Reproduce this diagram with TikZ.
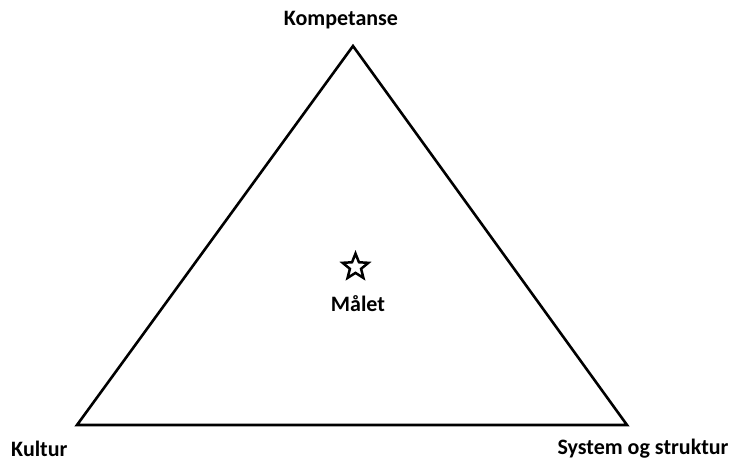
\documentclass[tikz,border=0pt]{standalone}
\usepackage{fontspec}
\setmainfont{Carlito}
\usetikzlibrary{shapes.geometric}
\begin{document}
\begin{tikzpicture}[x=1pt,y=-1pt,
  lbl/.style={font=\bfseries\fontsize{22}{26}\selectfont, inner sep=0pt},
  edge/.style={line width=2.6pt, line join=miter}]
\useasboundingbox[fill=white] (0,0) rectangle (731,466);
\coordinate (top) at (353,46);
\coordinate (bl) at (77,425);
\coordinate (br) at (627,425);
\draw[edge] (top) -- (bl) -- (br) -- cycle;
\node[lbl] (komp) at (341,20) {Kompetanse};
\node[lbl, anchor=west] (kult) at (11,449) {Kultur};
\node[lbl] (sys) at (643,449) {System og struktur};
\node[star, star points=5, star point ratio=2.3, minimum size=27pt, inner sep=0pt, draw, line width=2.5pt, line join=miter] (star) at (355.5,267) {};
\node[lbl] (mal) at (358,304) {Målet};
\end{tikzpicture}
\end{document}
